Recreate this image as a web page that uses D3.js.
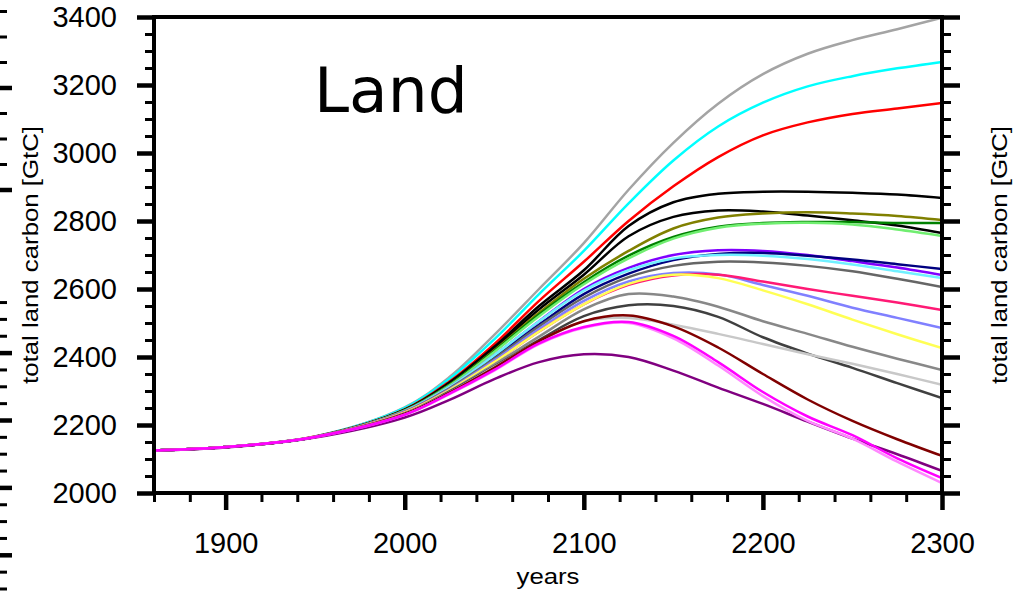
<!DOCTYPE html>
<html>
<head>
<meta charset="utf-8">
<script src="https://d3js.org/d3.v7.min.js"></script>
<style>
    body { margin: 0; background: #fff; }
    #chart { width: 1019px; height: 593px; }
</style>
</head>
<body>
<div id="chart"></div>
<script>
var years = [1860, 1900, 1950, 2000, 2025, 2050, 2075, 2100, 2125, 2150, 2175, 2200, 2225, 2250, 2275, 2300];

// total land carbon [GtC], one array per model run
var grayTop      = [2125, 2135, 2166, 2252, 2341, 2465, 2600, 2735, 2892, 3030, 3145, 3232, 3292, 3332, 3364, 3398];
var cyan         = [2125, 2135, 2166, 2250, 2336, 2452, 2585, 2712, 2852, 2978, 3078, 3148, 3196, 3226, 3249, 3268];
var red          = [2125, 2135, 2166, 2246, 2328, 2438, 2565, 2680, 2800, 2902, 2988, 3052, 3090, 3115, 3131, 3147];
var blackA       = [2125, 2135, 2165, 2245, 2325, 2430, 2550, 2655, 2785, 2855, 2880, 2886, 2886, 2883, 2878, 2868];
var blackB       = [2125, 2135, 2165, 2244, 2322, 2425, 2540, 2642, 2755, 2812, 2831, 2828, 2816, 2802, 2787, 2765];
var olive        = [2125, 2135, 2165, 2243, 2318, 2420, 2530, 2630, 2712, 2778, 2810, 2822, 2826, 2822, 2815, 2803];
var green        = [2125, 2135, 2165, 2243, 2318, 2418, 2525, 2620, 2698, 2753, 2783, 2794, 2797, 2797, 2794, 2794];
var lightGreen   = [2125, 2135, 2165, 2242, 2316, 2415, 2520, 2614, 2690, 2748, 2780, 2792, 2795, 2790, 2775, 2756];
var violet       = [2125, 2135, 2165, 2241, 2312, 2405, 2505, 2600, 2662, 2700, 2714, 2712, 2700, 2682, 2663, 2641];
var navy         = [2125, 2135, 2165, 2240, 2310, 2400, 2495, 2585, 2645, 2685, 2703, 2706, 2698, 2687, 2673, 2659];
var lightCyan    = [2125, 2135, 2165, 2241, 2312, 2405, 2505, 2595, 2655, 2690, 2700, 2698, 2688, 2672, 2652, 2632];
var grayMid      = [2125, 2135, 2165, 2239, 2308, 2395, 2490, 2575, 2635, 2668, 2680, 2678, 2668, 2652, 2630, 2606];
var lightBlue    = [2125, 2135, 2165, 2238, 2305, 2390, 2482, 2565, 2622, 2647, 2643, 2612, 2580, 2545, 2515, 2485];
var pink         = [2125, 2135, 2165, 2238, 2303, 2385, 2475, 2555, 2612, 2640, 2642, 2622, 2600, 2580, 2560, 2538];
var yellow       = [2125, 2135, 2165, 2237, 2303, 2385, 2475, 2555, 2615, 2642, 2632, 2596, 2555, 2510, 2467, 2426];
var grayLow      = [2125, 2135, 2165, 2235, 2300, 2378, 2460, 2540, 2585, 2578, 2548, 2505, 2468, 2430, 2395, 2362];
var grayDark     = [2125, 2135, 2165, 2234, 2298, 2372, 2450, 2520, 2552, 2550, 2518, 2458, 2410, 2368, 2323, 2279];
var lightGray    = [2125, 2135, 2165, 2234, 2296, 2370, 2445, 2505, 2515, 2495, 2468, 2438, 2408, 2380, 2350, 2318];
var darkRed      = [2125, 2135, 2165, 2233, 2295, 2368, 2447, 2505, 2522, 2490, 2428, 2350, 2275, 2212, 2158, 2109];
var magenta      = [2125, 2135, 2165, 2230, 2292, 2362, 2440, 2488, 2503, 2462, 2385, 2297, 2225, 2170, 2102, 2044];
var lightMagenta = [2125, 2135, 2165, 2230, 2291, 2360, 2438, 2486, 2500, 2455, 2375, 2285, 2212, 2160, 2092, 2029];
var purple       = [2125, 2134, 2163, 2222, 2274, 2335, 2385, 2408, 2400, 2360, 2310, 2262, 2210, 2160, 2114, 2065];

var seriesValues = [grayTop, cyan, red, blackA, blackB, olive, green, lightGreen, violet, navy, lightCyan,
    grayMid, lightBlue, pink, yellow, grayLow, grayDark, lightGray, darkRed, purple, lightMagenta, magenta];
var seriesColors = ["#a4a4a4", "#00ffff", "#ff0000", "#000000", "#000000", "#808000", "#008000", "#70ee70",
    "#8000ff", "#000080", "#70f0ff", "#666666", "#8080ff", "#ff1a75", "#ffff55", "#888888", "#404040",
    "#c8c8c8", "#800000", "#800080", "#ff88ff", "#ff00ff"];

// Axis ticks
var yMajorTicks = [2000, 2200, 2400, 2600, 2800, 3000, 3200, 3400];
var xMajorTicks = [1900, 2000, 2100, 2200, 2300];

/**
 * Line chart of land carbon per model
 * @param {string} _parentElement id of the containing div
 */
function LandChart(_parentElement) {
    let self = this;
    self.parent = _parentElement;
    self.init();
}

LandChart.prototype.init = function() {
    let self = this;

    self.margin = {top: 17, left: 154, right: 77, bottom: 100};
    self.width = 1019 - self.margin.left - self.margin.right;
    self.height = 593 - self.margin.top - self.margin.bottom;

    self.svgRoot = d3.select("#" + self.parent).append("svg")
        .attr("width", 1019)
        .attr("height", 593);

    self.svg = self.svgRoot.append("g")
        .attr("transform", "translate(" + self.margin.left + "," + self.margin.top + ")");

    self.x = d3.scaleLinear().domain([1860, 2300]).range([0, self.width]);
    self.y = d3.scaleLinear().domain([2000, 3400]).range([self.height, 0]);

    self.drawLines();
    self.drawAxes();
    self.drawText();
    self.drawNeighbour();
}

LandChart.prototype.drawLines = function() {
    let self = this;

    let line = d3.line()
        .x(function(d) { return self.x(d[0]); })
        .y(function(d) { return self.y(d[1]); })
        .curve(d3.curveCatmullRom.alpha(0.5));

    self.svg.append("defs").append("clipPath")
        .attr("id", "plotClip")
        .append("rect")
        .attr("width", self.width)
        .attr("height", self.height);

    self.svg.append("g")
        .attr("clip-path", "url(#plotClip)")
        .selectAll("path")
        .data(seriesValues)
        .enter()
        .append("path")
            .attr("fill", "none")
            .attr("stroke", function(d, i) { return seriesColors[i]; })
            .attr("stroke-width", 2.5)
            .attr("d", function(vals) {
                return line(vals.map(function(v, i) { return [years[i], v]; }));
            });
}

LandChart.prototype.drawAxes = function() {
    let self = this;
    let yMinor = d3.range(2000, 3401, 50);
    let xMinor = d3.range(1860, 2301, 20);

    // minor ticks first, major ticks on top
    let addAxis = function(axis, transform, width) {
        let g = self.svg.append("g")
            .attr("transform", transform)
            .call(axis);
        g.select(".domain").remove();
        g.selectAll(".tick line")
            .attr("stroke", "#000")
            .attr("stroke-width", width);
        return g;
    };

    addAxis(d3.axisLeft(self.y).tickValues(yMinor).tickSize(9).tickFormat(""), null, 3);
    addAxis(d3.axisRight(self.y).tickValues(yMinor).tickSize(9).tickFormat(""),
        "translate(" + self.width + ",0)", 3);
    addAxis(d3.axisBottom(self.x).tickValues(xMinor).tickSize(9).tickFormat(""),
        "translate(0," + self.height + ")", 3);

    let yLeft = addAxis(d3.axisLeft(self.y).tickValues(yMajorTicks).tickSize(17).tickPadding(20)
        .tickFormat(d3.format("d")), null, 4.5);
    addAxis(d3.axisRight(self.y).tickValues(yMajorTicks).tickSize(18).tickFormat(""),
        "translate(" + self.width + ",0)", 4.5);
    let xBottom = addAxis(d3.axisBottom(self.x).tickValues(xMajorTicks).tickSize(17).tickPadding(22)
        .tickFormat(d3.format("d")), "translate(0," + self.height + ")", 4.5);

    [yLeft, xBottom].forEach(function(g) {
        g.selectAll("text")
            .attr("fill", "#000")
            .attr("font-family", "Liberation Sans, Arial, sans-serif")
            .attr("font-size", "29px");
    });

    // frame
    self.svg.append("rect")
        .attr("width", self.width)
        .attr("height", self.height)
        .attr("fill", "none")
        .attr("stroke", "#000")
        .attr("stroke-width", 4);
}

LandChart.prototype.drawText = function() {
    let self = this;

    self.svg.append("text")
        .attr("x", 160)
        .attr("y", 95)
        .attr("font-family", "DejaVu Sans")
        .attr("font-size", "63px")
        .attr("fill", "#000")
        .text("Land");

    self.svgRoot.append("text")
        .attr("x", 548)
        .attr("y", 584)
        .attr("text-anchor", "middle")
        .attr("font-family", "Liberation Sans, Arial, sans-serif")
        .attr("font-size", "22px")
        .attr("textLength", 63)
        .attr("lengthAdjust", "spacingAndGlyphs")
        .text("years");

    // axis title, repeated by the panel to the right
    [38, 1007].forEach(function(xPos) {
        self.svgRoot.append("text")
            .attr("transform", "translate(" + xPos + ",255) rotate(-90)")
            .attr("text-anchor", "middle")
            .attr("font-family", "Liberation Sans, Arial, sans-serif")
            .attr("font-size", "22px")
            .attr("textLength", 258)
            .attr("lengthAdjust", "spacingAndGlyphs")
            .text("total land carbon [GtC]");
    });
}

/**
 * Edge of the neighbouring panel's axis, cut off at the left of the picture
 */
LandChart.prototype.drawNeighbour = function() {
    let self = this;
    let upper = d3.scaleLinear().domain([0, 8]).range([190, -14]);
    let lower = d3.scaleLinear().domain([0, 20]).range([589, 252]);

    let g = self.svgRoot.append("g");
    let ticks = d3.range(0, 8).map(function(i) { return {y: upper(i), major: i % 4 === 0}; })
        .concat(d3.range(0, 18).map(function(i) { return {y: lower(i), major: i % 4 === 2}; }));

    g.selectAll("line")
        .data(ticks)
        .enter()
        .append("line")
            .attr("x1", 0)
            .attr("x2", function(d) { return d.major ? 12 : 7; })
            .attr("y1", function(d) { return d.y; })
            .attr("y2", function(d) { return d.y; })
            .attr("stroke", "#000")
            .attr("stroke-width", function(d) { return d.major ? 4.5 : 3; });
}

var chart = new LandChart("chart");
</script>
</body>
</html>
